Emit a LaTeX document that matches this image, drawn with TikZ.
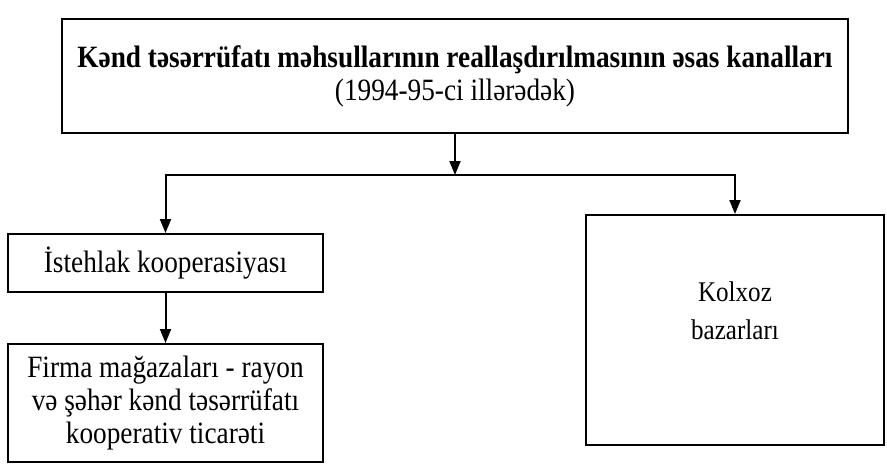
\documentclass[tikz,border=0pt]{standalone}
\usepackage{fontspec}
\setmainfont{Liberation Serif}[FakeStretch=0.88]
\usetikzlibrary{arrows.meta}

\begin{document}
\begin{tikzpicture}[
		x=1pt, y=-1pt,
		line width=2pt,
		>={Triangle[length=14pt,width=11pt]},
		channel/.style={draw,rectangle,align=center,inner sep=0pt},
		bigtext/.style={font=\fontsize{31}{33}\selectfont},
		smalltext/.style={font=\fontsize{28.5}{38}\selectfont}
	]
		\useasboundingbox (0,0) rectangle (887,466);

		% Boxes
		\node[channel, line width=2.5pt, minimum width=786pt, minimum height=114pt,
			font=\fontsize{31}{33}\selectfont] (top) at (455,76)
			{\textbf{Kənd təsərrüfatı məhsullarının reallaşdırılmasının əsas kanalları}\\
			(1994-95-ci illərədək)};
		\node[channel, bigtext, minimum width=315pt, minimum height=58pt] (coop) at (165.5,263)
			{İstehlak kooperasiyası};
		\node[channel, bigtext, minimum width=315pt, minimum height=118pt] (firma) at (165.5,403)
			{Firma mağazaları - rayon\\ və şəhər kənd təsərrüfatı\\ kooperativ ticarəti};
		\node[channel, smalltext, minimum width=298pt, minimum height=230pt] (kolxoz) at (735,330)
			{Kolxoz\\ bazarları\\[0pt] \mbox{}};

		% Arrows
		\coordinate (junc) at (455,175);
		\draw[->] (top.south) -- (junc);
		\draw[->] (junc) -| (coop);
		\draw[->] (junc) -| (kolxoz);
		\draw[->] (coop) -- (firma);
	\end{tikzpicture}
\end{document}
